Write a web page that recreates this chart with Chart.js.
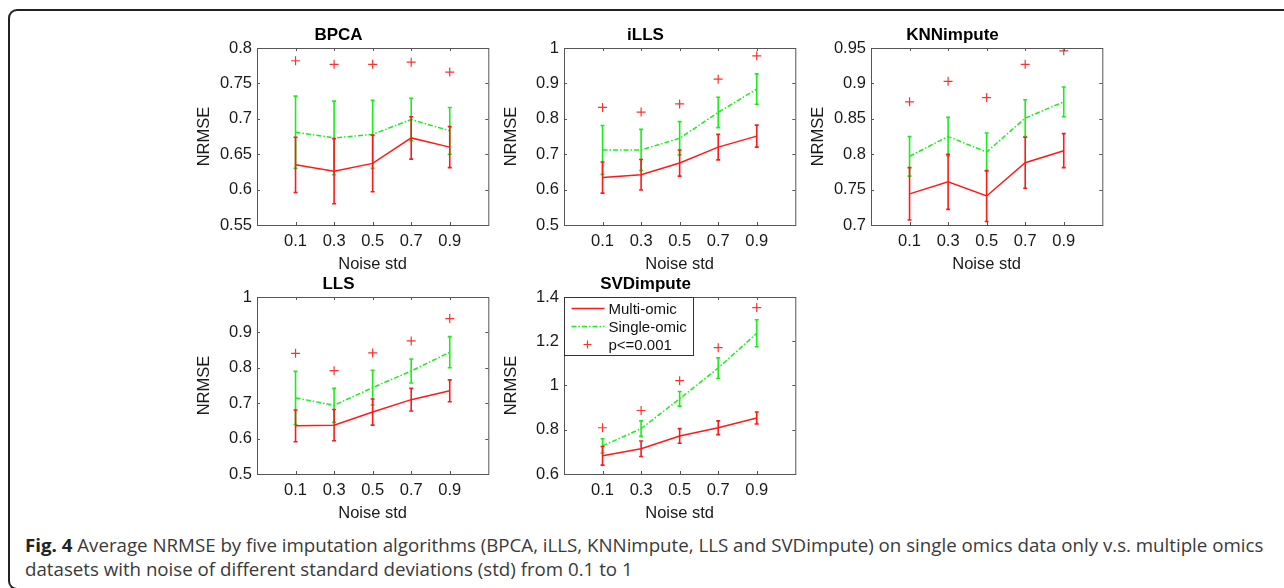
<!DOCTYPE html>
<html>
<head>
<meta charset="utf-8">
<script src="https://cdn.jsdelivr.net/npm/chart.js@4.4.0/dist/chart.umd.min.js"></script>
<style>
  html, body { margin: 0; padding: 0; background: #fff; overflow: hidden; }
  body { width: 1284px; height: 588px; position: relative; }
  #frame { position: absolute; left: 8px; top: 9px; width: 1276px; height: 581px;
    border: 2px solid #222; border-right: none; border-radius: 9px 0 0 9px; box-sizing: border-box; }
  canvas { position: absolute; }
  .ln { position: absolute; left: 25px; white-space: nowrap; font-family: "Open Sans", "Noto Sans", sans-serif;
    font-size: 18px; line-height: 24px; color: #3a3a3a; transform-origin: 0 50%; }
  .ln b { color: #222; }
</style>
</head>
<body>
<div id="frame"></div>
<canvas id="c1"></canvas>
<canvas id="c2"></canvas>
<canvas id="c3"></canvas>
<canvas id="c4"></canvas>
<canvas id="c5"></canvas>
<div class="ln" id="l1" style="top:533px"><b>Fig. 4</b> Average NRMSE by five imputation algorithms (BPCA, iLLS, KNNimpute, LLS and SVDimpute) on single omics data only v.s. multiple omics</div>
<div class="ln" id="l2" style="top:557px">datasets with noise of different standard deviations (std) from 0.1 to 1</div>
<script>
const noise = [0.1, 0.3, 0.5, 0.7, 0.9];

// BPCA
const bpcaMulti = [0.635, 0.626, 0.637, 0.673, 0.660];
const bpcaMultiErr = [0.039, 0.046, 0.040, 0.030, 0.029];
const bpcaSingle = [0.681, 0.673, 0.678, 0.699, 0.683];
const bpcaSingleErr = [0.051, 0.052, 0.048, 0.030, 0.033];
const bpcaP = [0.782, 0.777, 0.777, 0.780, 0.766];
const bpcaTicks = [0.55, 0.6, 0.65, 0.7, 0.75, 0.8];

// iLLS
const illsMulti = [0.634, 0.642, 0.675, 0.720, 0.751];
const illsMultiErr = [0.044, 0.043, 0.037, 0.036, 0.031];
const illsSingle = [0.712, 0.712, 0.745, 0.818, 0.884];
const illsSingleErr = [0.069, 0.058, 0.047, 0.043, 0.043];
const illsP = [0.832, 0.819, 0.842, 0.912, 0.978];
const illsTicks = [0.5, 0.6, 0.7, 0.8, 0.9, 1];

// KNNimpute
const knnMulti = [0.744, 0.761, 0.741, 0.788, 0.805];
const knnMultiErr = [0.037, 0.039, 0.036, 0.036, 0.024];
const knnSingle = [0.797, 0.825, 0.803, 0.851, 0.874];
const knnSingleErr = [0.028, 0.027, 0.027, 0.026, 0.021];
const knnP = [0.874, 0.903, 0.880, 0.927, 0.946];
const knnTicks = [0.7, 0.75, 0.8, 0.85, 0.9, 0.95];

// LLS
const llsMulti = [0.636, 0.638, 0.675, 0.710, 0.735];
const llsMultiErr = [0.045, 0.044, 0.037, 0.032, 0.031];
const llsSingle = [0.715, 0.694, 0.744, 0.791, 0.844];
const llsSingleErr = [0.075, 0.048, 0.049, 0.034, 0.044];
const llsP = [0.841, 0.792, 0.842, 0.876, 0.939];
const llsTicks = [0.5, 0.6, 0.7, 0.8, 0.9, 1];

// SVDimpute
const svdMulti = [0.682, 0.714, 0.772, 0.809, 0.853];
const svdMultiErr = [0.042, 0.035, 0.033, 0.031, 0.027];
const svdSingle = [0.727, 0.805, 0.940, 1.079, 1.236];
const svdSingleErr = [0.032, 0.035, 0.033, 0.046, 0.061];
const svdP = [0.809, 0.887, 1.022, 1.171, 1.352];
const svdTicks = [0.6, 0.8, 1, 1.2, 1.4];

Chart.defaults.font.family = '"Liberation Sans", Arial, Helvetica, sans-serif';
Chart.defaults.color = '#1a1a1a';

const errorBars = {
  id: 'errorBars',
  afterDatasetDraw(chart, args) {
    const ds = chart.data.datasets[args.index];
    if (!ds.errors) return;
    const ctx = chart.ctx;
    const y = chart.scales.y;
    ctx.save();
    ctx.strokeStyle = ds.borderColor;
    ctx.lineWidth = 1.6;
    args.meta.data.forEach((pt, i) => {
      const v = ds.data[i].y, e = ds.errors[i];
      const t = y.getPixelForValue(v + e), b = y.getPixelForValue(v - e);
      ctx.beginPath();
      ctx.moveTo(pt.x, t); ctx.lineTo(pt.x, b);
      ctx.moveTo(pt.x - 2, t); ctx.lineTo(pt.x + 2, t);
      ctx.moveTo(pt.x - 2, b); ctx.lineTo(pt.x + 2, b);
      ctx.stroke();
    });
    ctx.restore();
  }
};

const boxFrame = {
  id: 'boxFrame',
  afterDraw(chart) {
    const ctx = chart.ctx;
    const a = chart.chartArea;
    ctx.save();
    ctx.strokeStyle = '#555';
    ctx.lineWidth = 1;
    ctx.strokeRect(Math.round(a.left) + 0.5, Math.round(a.top) + 0.5, a.right - a.left, a.bottom - a.top);
    ctx.beginPath();
    chart.scales.x.ticks.forEach(t => {
      const px = Math.round(chart.scales.x.getPixelForValue(t.value)) + 0.5;
      ctx.moveTo(px, a.bottom); ctx.lineTo(px, a.bottom - 3);
      ctx.moveTo(px, a.top); ctx.lineTo(px, a.top + 3);
    });
    chart.scales.y.ticks.forEach(t => {
      const py = Math.round(chart.scales.y.getPixelForValue(t.value)) + 0.5;
      ctx.moveTo(a.left, py); ctx.lineTo(a.left + 3, py);
      ctx.moveTo(a.right, py); ctx.lineTo(a.right - 3, py);
    });
    ctx.stroke();

    const lg = chart.options.plugins.boxFrame && chart.options.plugins.boxFrame.legend;
    if (lg) {
      const x0 = Math.round(a.left) + 0.5, y0 = Math.round(a.top) + 0.5;
      ctx.fillStyle = '#fff';
      ctx.fillRect(x0, y0, 129, 58);
      ctx.strokeStyle = '#333';
      ctx.strokeRect(x0, y0, 129, 58);
      ctx.font = '15px "Liberation Sans", Arial, sans-serif';
      ctx.textBaseline = 'middle';
      ctx.fillStyle = '#111';
      chart.data.datasets.forEach((ds, i) => {
        const cy = y0 + 11 + i * 18;
        ctx.strokeStyle = ds.borderColor;
        ctx.lineWidth = ds.borderWidth;
        if (ds.showLine === false) {
          ctx.beginPath();
          ctx.moveTo(x0 + 19, cy); ctx.lineTo(x0 + 27, cy);
          ctx.moveTo(x0 + 23, cy - 4); ctx.lineTo(x0 + 23, cy + 4);
          ctx.stroke();
        } else {
          ctx.setLineDash(ds.borderDash || []);
          ctx.beginPath();
          ctx.moveTo(x0 + 7, cy); ctx.lineTo(x0 + 40, cy);
          ctx.stroke();
          ctx.setLineDash([]);
        }
        ctx.fillText(ds.label, x0 + 44, cy + 1);
      });
    }
    ctx.restore();
  }
};

function makePanel(id, left, top, title, yTicks, multi, multiErr, single, singleErr, pv, legend) {
  const cv = document.getElementById(id);
  const w = 70 + 233 + 4, h = 30 + 177 + 52;
  cv.width = w; cv.height = h;
  cv.style.left = (left - 70) + 'px';
  cv.style.top = (top - 30) + 'px';
  return new Chart(cv, {
    type: 'line',
    data: {
      datasets: [
        { label: 'Multi-omic', data: noise.map((x, i) => ({ x, y: multi[i] })), errors: multiErr,
          borderColor: '#ff1a1a', borderWidth: 1.5, pointRadius: 0, fill: false },
        { label: 'Single-omic', data: noise.map((x, i) => ({ x, y: single[i] })), errors: singleErr,
          borderColor: '#1aee1a', borderWidth: 1.5, borderDash: [5, 2, 1.5, 2], pointRadius: 0, fill: false },
        { label: 'p<=0.001', data: noise.map((x, i) => ({ x, y: pv[i] })), showLine: false,
          pointStyle: 'cross', pointRadius: 4.5, borderColor: '#ff3030', borderWidth: 1.2 }
      ]
    },
    options: {
      responsive: false,
      animation: false,
      devicePixelRatio: 1,
      layout: { padding: { left: 0, right: 4, top: 0, bottom: 0 } },
      plugins: {
        legend: { display: false },
        tooltip: { enabled: false },
        title: { display: true, text: title, color: '#000', font: { size: 17, weight: 'bold' },
          padding: { top: 6.8, bottom: 2.8 } },
        boxFrame: { legend: legend }
      },
      scales: {
        x: {
          type: 'linear', min: -0.1, max: 1.1,
          afterBuildTicks: s => { s.ticks = noise.map(v => ({ value: v })); },
          afterFit: s => { s.height = 52; },
          grid: { display: false, drawTicks: false },
          border: { display: false },
          ticks: { callback: v => String(v), padding: 7, font: { size: 16.5 }, color: '#1a1a1a', maxRotation: 0 },
          title: { display: true, text: 'Noise std', font: { size: 16.5 }, color: '#1a1a1a', padding: { top: 0, bottom: 3 } }
        },
        y: {
          type: 'linear', min: yTicks[0], max: yTicks[yTicks.length - 1],
          afterBuildTicks: s => { s.ticks = yTicks.map(v => ({ value: v })); },
          afterFit: s => { s.width = 70; },
          grid: { display: false, drawTicks: false },
          border: { display: false },
          ticks: { callback: v => String(v), padding: 5, font: { size: 16.5 }, color: '#1a1a1a' },
          title: { display: true, text: 'NRMSE', font: { size: 16.5 }, color: '#1a1a1a', padding: { top: 8, bottom: 0 } }
        }
      }
    },
    plugins: [errorBars, boxFrame]
  });
}

makePanel('c1', 257, 48, 'BPCA', bpcaTicks, bpcaMulti, bpcaMultiErr, bpcaSingle, bpcaSingleErr, bpcaP, false);
makePanel('c2', 564, 48, 'iLLS', illsTicks, illsMulti, illsMultiErr, illsSingle, illsSingleErr, illsP, false);
makePanel('c3', 871, 48, 'KNNimpute', knnTicks, knnMulti, knnMultiErr, knnSingle, knnSingleErr, knnP, false);
makePanel('c4', 257, 297, 'LLS', llsTicks, llsMulti, llsMultiErr, llsSingle, llsSingleErr, llsP, false);
makePanel('c5', 564, 297, 'SVDimpute', svdTicks, svdMulti, svdMultiErr, svdSingle, svdSingleErr, svdP, true);

// squeeze the caption into the condensed width of the original
const l1 = document.getElementById('l1'), l2 = document.getElementById('l2');
const k = 1238 / l1.scrollWidth;
l1.style.transform = 'scaleX(' + k + ')';
l2.style.transform = 'scaleX(' + k + ')';
</script>
</body>
</html>
